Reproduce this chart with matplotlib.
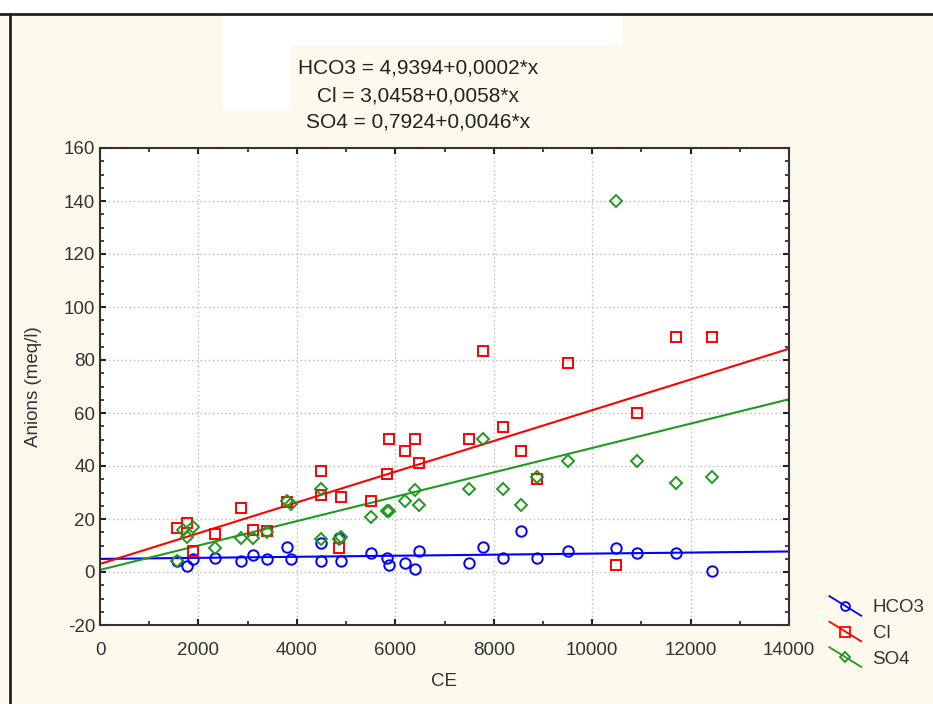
import numpy as np
import matplotlib
matplotlib.use('Agg')
import matplotlib.pyplot as plt
from matplotlib.lines import Line2D
from matplotlib.patches import Rectangle
from matplotlib.legend_handler import HandlerBase
from matplotlib.ticker import MultipleLocator

plt.rcParams['font.family'] = ['Liberation Sans', 'DejaVu Sans']
plt.rcParams['axes.unicode_minus'] = False

#%% data
hco3_x = [1570, 1770, 1890, 2340, 2870, 3110, 3390, 3800, 3880, 4490, 4490, 4860, 4900, 5510, 5830,
          5870, 6200, 6400, 6480, 7500, 7780, 8190, 8560, 8880, 9510, 10490, 10920, 11700, 12440]
hco3_y = [4.2, 2.3, 4.9, 5.3, 4.2, 6.4, 4.9, 9.4, 4.9, 11, 4.2, 12.8, 4.2, 7.2, 5.3,
          2.6, 3.4, 1.1, 7.9, 3.4, 9.4, 5.3, 15.5, 5.3, 7.9, 9.0, 7.2, 7.2, 0.4]

cl_x = [1570, 1770, 1890, 2340, 2870, 3110, 3390, 3800, 4490, 4490, 4860, 4900, 5510, 5830,
        5870, 6200, 6400, 6480, 7500, 7780, 8190, 8560, 8880, 9510, 10490, 10920, 11700, 12440]
cl_y = [16.6, 18.5, 7.9, 14.3, 24, 15.8, 15.5, 26.4, 38, 29, 9, 28.3, 26.8, 37,
        50.2, 45.7, 50.2, 41, 50.2, 83.4, 54.7, 45.7, 35, 79, 2.6, 60, 88.7, 88.7]

so4_x = [1570, 1690, 1770, 1890, 2340, 2870, 3110, 3390, 3800, 3880, 4490, 4490, 4860, 4900, 5510,
         5830, 5870, 6200, 6400, 6480, 7500, 7780, 8190, 8560, 8880, 9510, 10490, 10920, 11700, 12440]
so4_y = [4.2, 15.8, 13.2, 17, 9, 12.8, 12.8, 15, 26.8, 25.7, 31.3, 12.5, 12.5, 13.2, 20.8,
         23, 23, 26.8, 31, 25.3, 31.3, 50.2, 31.3, 25.3, 36, 42, 140, 42, 33.6, 36]

# regression coefficients printed on the chart
names = ['HCO3', 'Cl', 'SO4']
intercepts = [4.9394, 3.0458, 0.7924]
slopes = [0.0002, 0.0058, 0.0046]

colors = ['#0000ff', '#ff0000', '#1f9a1f']
markers = ['o', 's', 'D']
msizes = [7.5, 7.8, 6.3]


class DiagHandler(HandlerBase):
    # legend handle drawn as a sloping line with marker in the middle
    def create_artists(self, legend, orig_handle, xdescent, ydescent,
                       width, height, fontsize, trans):
        x0, x1 = -xdescent, -xdescent + width
        y0, y1 = -ydescent + height * 1.25, -ydescent - height * 0.25
        ln = Line2D([x0, x1], [y0, y1], color=orig_handle.get_color(), lw=1.3)
        mk = Line2D([(x0 + x1) / 2], [(y0 + y1) / 2], marker=orig_handle.get_marker(),
                    ms=orig_handle.get_markersize() * 0.85, mfc='none',
                    mec=orig_handle.get_color(), mew=1.3, ls='none')
        for a in (ln, mk):
            a.set_transform(trans)
        return [ln, mk]


#%% figure
W, H = 933, 704
fig = plt.figure(figsize=(W / 100, H / 100), dpi=100, facecolor='#fef9ed')
ax = fig.add_axes([100 / W, (H - 625) / H, (789 - 100) / W, (625 - 148) / H])
ax.set_facecolor('white')

xs = [hco3_x, cl_x, so4_x]
ys = [hco3_y, cl_y, so4_y]
xfit = np.array([0, 14000])
handles = []
for i in range(3):
    ax.plot(xs[i], ys[i], ls='none', marker=markers[i], ms=msizes[i], mfc='none',
            mec=colors[i], mew=1.4, zorder=3)
    ax.plot(xfit, intercepts[i] + slopes[i] * xfit, color=colors[i], lw=1.5, zorder=2)
    handles.append(Line2D([], [], color=colors[i], marker=markers[i], ms=msizes[i]))

ax.set_xlim(0, 14000)
ax.set_ylim(-20, 160)
ax.xaxis.set_major_locator(MultipleLocator(2000))
ax.xaxis.set_minor_locator(MultipleLocator(1000))
ax.yaxis.set_major_locator(MultipleLocator(20))
ax.yaxis.set_minor_locator(MultipleLocator(5))
ax.tick_params(which='both', direction='in', top=True, right=True, colors='#222222',
               labelcolor='#333333', labelsize=13.5)
ax.tick_params(which='major', length=4, width=1.5)
ax.tick_params(which='minor', length=3, width=1.2)
ax.tick_params(axis='x', pad=12)
ax.grid(True, which='major', ls=(0, (1, 2)), color='#b8b8b8', lw=1)
for s in ax.spines.values():
    s.set_linewidth(1.5)
    s.set_color('#333333')

ax.set_xlabel('CE', fontsize=13.5, color='#333333', labelpad=10)
ax.set_ylabel('Anions (meq/l)', fontsize=13.5, color='#333333', labelpad=16)

eqs = [f'{n} = {a:.4f}+{b:.4f}*x'.replace('.', ',') for n, a, b in zip(names, intercepts, slopes)]
for txt, yp in zip(eqs, [68, 96, 122]):
    fig.text(418 / W, 1 - yp / H, txt, ha='center', va='center', fontsize=15, color='#222222')

leg = fig.legend(handles, names, handler_map={Line2D: DiagHandler()},
                 loc='upper left', bbox_to_anchor=(820 / W, 1 - 590 / H),
                 frameon=False, fontsize=13.5, handlelength=1.7, handletextpad=0.6,
                 labelspacing=0.45, borderpad=0)
for t in leg.get_texts():
    t.set_color('#333333')

# white strip at the top, the blanked-out title area and the frame lines
fig.add_artist(Rectangle((0, 1 - 13 / H), 1, 13 / H, transform=fig.transFigure,
                         facecolor='white', edgecolor='none'))
fig.add_artist(Rectangle((223 / W, 1 - 45 / H), (622 - 223) / W, 30 / H, transform=fig.transFigure,
                         facecolor='white', edgecolor='none'))
fig.add_artist(Rectangle((223 / W, 1 - 110 / H), (290 - 223) / W, 65 / H, transform=fig.transFigure,
                         facecolor='white', edgecolor='none'))
fig.add_artist(Line2D([0, 1], [1 - 13.5 / H] * 2, transform=fig.transFigure, color='#222222', lw=2))
fig.add_artist(Line2D([9.5 / W] * 2, [0, 1 - 13.5 / H], transform=fig.transFigure, color='#222222', lw=2))

fig.savefig('out.png', dpi=100, facecolor=fig.get_facecolor())
